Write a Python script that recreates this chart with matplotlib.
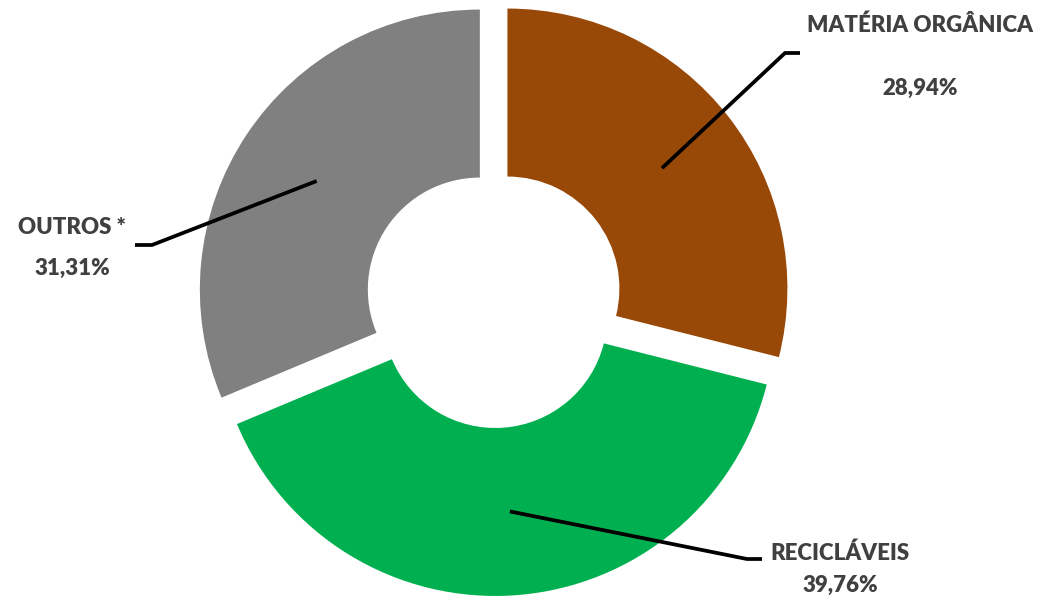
import numpy as np
import matplotlib
matplotlib.use("Agg")
import matplotlib.pyplot as plt

categories = ["MATÉRIA ORGÂNICA", "RECICLÁVEIS", "OUTROS *"]
values = [28.94, 39.76, 31.31]
value_labels = ["28,94%", "39,76%", "31,31%"]
colors = ["#984807", "#00B050", "#808080"]

W, H = 1045, 601
fig = plt.figure(figsize=(W / 100, H / 100), dpi=100)
ax = fig.add_axes([0, 0, 1, 1])

cx, cy = 494, H - 299
R = 280
explode_px = 17
wedges, _ = ax.pie(values, colors=colors, startangle=90, counterclock=False,
                   center=(cx, cy), radius=R, explode=[explode_px] * 3,
                   wedgeprops=dict(width=R * 0.6, linewidth=0), frame=True)
ax.set_xlim(0, W)
ax.set_ylim(0, H)
ax.set_aspect("equal")
ax.axis("off")

# label layout: (text x, text y line1, text y line2, elbow x, elbow y, end x) in pixels
layout = [
    (920, 25, 88, 785, 53, 800),
    (840, 553, 585, 747, 559, 762),
    (72, 228, 268, 152, 245, 135),
]
txtcol = "#404040"
for w, cat, vl, (tx, ty1, ty2, ex, ey, endx) in zip(wedges, categories, value_labels, layout):
    mid = np.deg2rad((w.theta1 + w.theta2) / 2)
    wcx, wcy = w.center
    px = wcx + 0.7 * R * np.cos(mid)
    py = wcy + 0.7 * R * np.sin(mid)
    ax.plot([px, ex, endx], [py, H - ey, H - ey], color="black", lw=2.7,
            solid_capstyle="butt", solid_joinstyle="round")
    ax.text(tx, H - ty1, cat, ha="center", va="center", fontsize=16,
            fontweight="heavy", family="Lato", color=txtcol)
    ax.text(tx, H - ty2, vl, ha="center", va="center", fontsize=16,
            fontweight="heavy", family="Lato", color=txtcol)

fig.savefig("out.png", dpi=100)
